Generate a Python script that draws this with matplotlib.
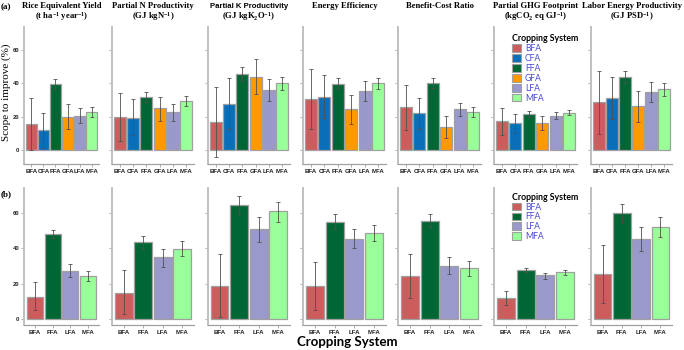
import numpy as np
import matplotlib
matplotlib.use('Agg')
import matplotlib.pyplot as plt
from matplotlib.patches import Patch

plt.rcParams['mathtext.fontset'] = 'custom'
plt.rcParams['mathtext.rm'] = 'Liberation Serif:bold'
plt.rcParams['mathtext.it'] = 'Liberation Serif:bold'
plt.rcParams['mathtext.bf'] = 'Liberation Serif:bold'

# ---- data ----
systems_a = ['BFA', 'CFA', 'FFA', 'GFA', 'LFA', 'MFA']
systems_b = ['BFA', 'FFA', 'LFA', 'MFA']
colors = {'BFA': '#cd5c5c', 'CFA': '#0a6fb8', 'FFA': '#006633',
          'GFA': '#ff9900', 'LFA': '#9999cc', 'MFA': '#99ff99'}

titles = [('Rice Equivalent Yield', '(t ha$^{-1}$ year$^{-1}$)'),
          ('Partial N Productivity', '(GJ kgN$^{-1}$)'),
          ('Partial K Productivity', '(GJ kgK$_{2}$O$^{-1}$)'),
          ('Energy Efficiency', None),
          ('Benefit-Cost Ratio', None),
          ('Partial GHG Footprint', '(kgCO$_{2}$ eq GJ$^{-1}$)'),
          ('Labor Energy Productivity', '(GJ PSD$^{-1}$)')]

# row (a): six systems
mean_a = [[15.6, 12.0, 39.4, 19.6, 20.4, 22.6],
          [19.6, 19.4, 31.6, 25.0, 22.6, 29.6],
          [16.6, 27.6, 45.6, 44.0, 35.8, 40.0],
          [30.6, 32.0, 39.6, 24.6, 35.4, 40.0],
          [25.6, 22.0, 40.2, 13.6, 24.6, 22.8],
          [17.2, 16.0, 21.6, 16.2, 20.6, 22.4],
          [28.6, 31.2, 43.8, 26.4, 34.8, 36.4]]
low_a = [[0.2, 1.4, 36.4, 12.4, 16.0, 19.6],
         [5.6, 9.2, 29.0, 17.6, 17.6, 26.6],
         [-4.2, 12.4, 41.2, 33.4, 29.4, 36.0],
         [12.4, 19.4, 36.4, 15.4, 29.6, 36.6],
         [12.0, 12.4, 37.4, 7.0, 20.4, 20.0],
         [9.0, 10.4, 19.6, 12.0, 18.4, 20.8],
         [9.4, 18.4, 40.0, 17.0, 29.0, 32.4]]
high_a = [[31.0, 22.4, 42.6, 27.4, 25.0, 25.6],
          [34.0, 30.6, 34.6, 32.0, 27.4, 32.2],
          [37.6, 43.0, 49.6, 54.4, 42.4, 43.6],
          [48.4, 44.8, 43.0, 33.0, 41.4, 43.4],
          [38.8, 31.2, 43.0, 20.2, 28.4, 25.6],
          [25.0, 21.6, 23.4, 20.2, 22.8, 23.8],
          [47.4, 43.8, 47.4, 35.6, 40.6, 40.0]]

# row (b): four systems
mean_b = [[12.6, 48.1, 27.4, 24.2],
          [14.9, 43.6, 34.9, 39.8],
          [18.9, 64.5, 50.8, 60.9],
          [18.5, 55.1, 45.5, 48.7],
          [24.2, 55.7, 30.2, 28.7],
          [12.1, 27.9, 24.7, 26.4],
          [25.3, 60.2, 45.3, 52.3]]
low_b = [[4.9, 45.7, 24.0, 21.7],
         [2.8, 39.4, 29.6, 35.5],
         [1.1, 59.2, 43.4, 55.1],
         [5.1, 50.9, 40.0, 44.3],
         [11.7, 51.9, 25.5, 24.3],
         [7.9, 26.6, 22.8, 25.1],
         [8.9, 55.1, 38.5, 46.6]]
high_b = [[20.8, 50.4, 30.9, 27.0],
          [27.7, 46.8, 39.8, 44.0],
          [36.6, 69.8, 57.9, 66.4],
          [32.1, 59.2, 51.1, 53.0],
          [36.8, 59.2, 35.3, 32.6],
          [16.0, 29.1, 26.2, 27.9],
          [42.1, 65.3, 52.3, 57.9]]

W, H = 684, 350
fig = plt.figure(figsize=(W / 100, H / 100), dpi=100)

lefts = [24, 112, 208, 303, 398, 494, 591]
widths = [75, 82, 82, 83, 83, 83, 81]


def px_axes(l, t, w, h):
    return fig.add_axes([l / W, 1 - (t + h) / H, w / W, h / H])


def draw_panel(ax, cats, means, lo, hi, ylim, first):
    x = np.arange(len(cats))
    means = np.array(means)
    lo = np.array(lo)
    hi = np.array(hi)
    ax.bar(x, means, width=0.9, color=[colors[c] for c in cats],
           edgecolor='#a0a0a0', linewidth=0.9, zorder=2)
    ax.errorbar(x, means, yerr=[means - lo, hi - means], fmt='none',
                ecolor='#505050', elinewidth=0.6, capsize=1.5,
                capthick=0.6, zorder=3)
    ax.set_xlim(-0.6, len(cats) - 0.4)
    ax.set_ylim(*ylim)
    ax.set_yticks([0, 20, 40, 60])
    ax.set_xticks(x)
    ax.set_xticklabels(cats, fontsize=4.4, fontweight='bold',
                       family='Liberation Sans', color='#222222')
    if first:
        ax.set_yticklabels(['0', '20', '40', '60'], fontsize=4.2,
                           fontweight='bold', family='Liberation Sans',
                           color='#222222')
    else:
        ax.set_yticklabels([])
    for s in ['top', 'right']:
        ax.spines[s].set_visible(False)
    ax.spines['left'].set_color('#c0c0c0')
    ax.spines['left'].set_linewidth(1.4)
    ax.spines['bottom'].set_color('#a0a0a0')
    ax.spines['bottom'].set_linewidth(0.9)
    ax.tick_params(axis='both', length=2, width=0.5, color='#909090',
                   pad=1.5)


rows = [(systems_a, mean_a, low_a, high_a, 27, 137, (-8.4, 73.8), 0.99),
        (systems_b, mean_b, low_b, high_b, 188, 137, (-3.4, 74.2), 1.01)]

for r, (cats, mm, ll, hh, top, hgt, ylim, ly) in enumerate(rows):
    for i in range(7):
        ax = px_axes(lefts[i], top, widths[i], hgt)
        draw_panel(ax, cats, mm[i], ll[i], hh[i], ylim, i == 0)
        if r == 0:
            cx = (lefts[i] + widths[i] / 2) / W
            line1, line2 = titles[i]
            fam1 = 'Liberation Sans' if i == 2 else 'Liberation Serif'
            fig.text(cx, 1 - 6.5 / H, line1, ha='center', va='center',
                     fontsize=6.2 if i != 2 else 5.6, fontweight='bold',
                     family=fam1)
            if line2:
                fig.text(cx, 1 - 16.5 / H, line2, ha='center', va='center',
                         fontsize=6.2, fontweight='bold',
                         family='Liberation Serif')
        if i == 5:
            handles = [Patch(facecolor=colors[c], edgecolor='#a0a0a0',
                             linewidth=0.8) for c in cats]
            leg = ax.legend(handles, cats, loc='upper left',
                            bbox_to_anchor=(0.15, ly), frameon=False,
                            title='Cropping System',
                            title_fontproperties={'family': 'Lato',
                                                  'weight': 'bold',
                                                  'size': 6.3},
                            handlelength=1.0, handleheight=1.0,
                            handletextpad=0.45, labelspacing=0.1,
                            borderpad=0.2,
                            prop={'family': 'Lato', 'size': 6.2})
            leg._legend_box.align = 'left'
            for t in leg.get_texts():
                t.set_color('#4a4ad0')

fig.text(6.5 / W, 1 - 92 / H, 'Scope to improve (%)', rotation=90,
         ha='center', va='center', fontsize=8.0, family='Liberation Serif')
fig.text(347 / W, 1 - 342 / H, 'Cropping System', ha='center', va='center',
         fontsize=9.5, family='Lato', fontweight='bold')
fig.text(1 / W, 1 - 7 / H, '(a)', ha='left', va='center', fontsize=6.5,
         fontweight='bold', family='Liberation Serif')
fig.text(1 / W, 1 - 194 / H, '(b)', ha='left', va='center', fontsize=6.5,
         fontweight='bold', family='Liberation Serif')

fig.savefig('out.png', dpi=100)
